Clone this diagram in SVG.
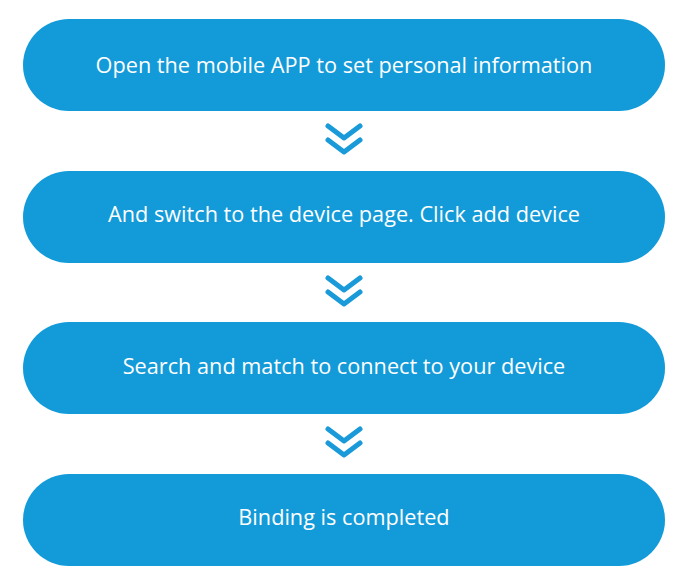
<svg xmlns="http://www.w3.org/2000/svg" width="690" height="580" viewBox="0 0 690 580">
<style>
.pill{fill:#139ad8}
.t{font-family:"Open Sans","Noto Sans","DejaVu Sans",sans-serif;font-size:21.7px;fill:#ffffff;text-anchor:middle;dominant-baseline:central}
.chev{fill:none;stroke:#1a9ad8;stroke-width:5;stroke-linecap:round;stroke-linejoin:round}
</style>
<defs>
<g id="dbl"><polyline class="chev" points="-16,-15 0,-3 16,-15"/><polyline class="chev" points="-16,-1 0,11 16,-1"/></g>
</defs>
<rect width="690" height="580" fill="#ffffff"/>
<g id="connectors">
<use href="#dbl" x="344" y="141"/>
<use href="#dbl" x="344" y="293"/>
<use href="#dbl" x="344" y="444"/>
</g>
<g id="step1"><rect class="pill" x="23" y="19" width="642" height="92" rx="46"/><text class="t" x="344" y="64">Open the mobile APP to set personal information</text></g>
<g id="step2"><rect class="pill" x="23" y="171" width="642" height="92" rx="46"/><text class="t" x="344" y="213">And switch to the device page. Click add device</text></g>
<g id="step3"><rect class="pill" x="23" y="322" width="642" height="92" rx="46"/><text class="t" x="344" y="365">Search and match to connect to your device</text></g>
<g id="step4"><rect class="pill" x="23" y="474" width="642" height="92" rx="46"/><text class="t" x="344" y="516">Binding is completed</text></g>
</svg>
